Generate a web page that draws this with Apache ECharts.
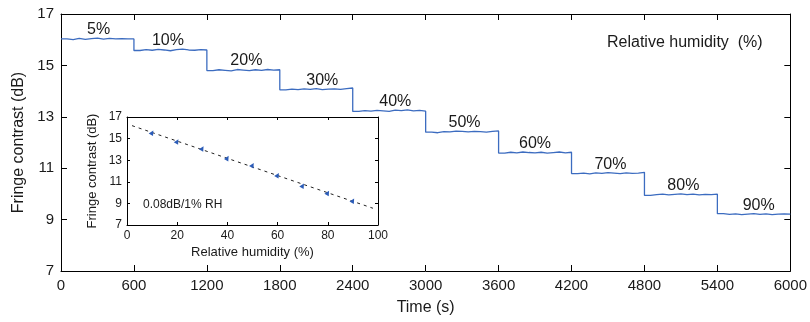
<!DOCTYPE html>
<html>
<head>
<meta charset="utf-8">
<script src="https://cdn.jsdelivr.net/npm/echarts@6/dist/echarts.min.js"></script>
<style>
  html, body { margin: 0; padding: 0; background: #fff; }
  #chart { width: 810px; height: 322px; }
</style>
</head>
<body>
<div id="chart"></div>
<script>
// readings every 50 s, one list per humidity step (600 s each)
const sampleStep = 50
const stepLength = 600
const segments = [
  [16.03, 16.00, 16.05, 16.01, 16.04, 16.06, 16.02, 16.05, 16.03, 16.04, 16.03, 16.03],
  [15.58, 15.61, 15.59, 15.62, 15.60, 15.57, 15.61, 15.63, 15.60, 15.59, 15.61, 15.60],
  [14.80, 14.83, 14.81, 14.79, 14.84, 14.82, 14.80, 14.83, 14.81, 14.84, 14.82, 14.83],
  [14.05, 14.08, 14.06, 14.09, 14.07, 14.10, 14.06, 14.08, 14.09, 14.07, 14.10, 14.12],
  [13.21, 13.24, 13.22, 13.25, 13.23, 13.21, 13.26, 13.24, 13.27, 13.23, 13.25, 13.22],
  [12.40, 12.38, 12.42, 12.41, 12.44, 12.43, 12.41, 12.43, 12.42, 12.40, 12.43, 12.45],
  [11.59, 11.62, 11.60, 11.63, 11.61, 11.60, 11.62, 11.59, 11.61, 11.63, 11.60, 11.62],
  [10.79, 10.81, 10.78, 10.82, 10.80, 10.83, 10.81, 10.79, 10.82, 10.80, 10.81, 10.84],
  [9.94, 9.97, 9.99, 9.96, 9.98, 10.00, 9.97, 9.99, 9.96, 9.98, 9.97, 9.99],
  [9.23, 9.20, 9.22, 9.19, 9.21, 9.23, 9.20, 9.22, 9.19, 9.21, 9.22, 9.21]
]

// step annotations
const stepLabels = ['5%', '10%', '20%', '30%', '40%', '50%', '60%', '70%', '80%', '90%']
const labelTimes = [310, 880, 1525, 2150, 2750, 3320, 3900, 4520, 5120, 5740]
const stepLevels = [16.03, 15.60, 14.82, 14.07, 13.23, 12.42, 11.61, 10.80, 9.97, 9.21]

// inset: contrast vs humidity
const rhPoints = [10, 20, 30, 40, 50, 60, 70, 80, 90]
const fcPoints = [15.55, 14.75, 14.1, 13.2, 12.55, 11.62, 10.65, 9.98, 9.25]
const fitRH = [2, 98]
const fitFC = [16.2, 8.55]

const timeTicks = [0, 600, 1200, 1800, 2400, 3000, 3600, 4200, 4800, 5400, 6000]

const traceData = []
segments.forEach((seg, i) => {
  seg.forEach((v, k) => {
    traceData.push([i * stepLength + k * sampleStep, v])
  })
})
const lastSeg = segments[segments.length - 1]
traceData.push([timeTicks[timeTicks.length - 1], lastSeg[lastSeg.length - 1]])

const labelData = labelTimes.map((t, i) => [t, stepLevels[i], stepLabels[i]])
const fitData = fitRH.map((r, i) => [r, fitFC[i]])
const pointData = rhPoints.map((r, i) => [r, fcPoints[i]])

const font = 'Liberation Sans, Arial, sans-serif'
const ink = '#1a1a1a'
const plain = (v) => String(v)

function frameAxis(extra) {
  return Object.assign({
    type: 'value',
    axisLine: { show: true, onZero: false, lineStyle: { color: '#000', width: 1 } },
    axisTick: { show: true, inside: true, length: 6, lineStyle: { color: '#000' } },
    axisLabel: { show: false },
    splitLine: { show: false }
  }, extra)
}

const chart = echarts.init(document.getElementById('chart'))
const option = {
  animation: false,
  backgroundColor: '#fff',
  textStyle: { fontFamily: font },
  grid: [
    { left: 61, right: 16, top: 14, bottom: 51 },
    { left: 127, top: 117, width: 251, height: 108, show: true,
      backgroundColor: '#fff', borderWidth: 0, z: 5 }
  ],
  xAxis: [
    frameAxis({
      gridIndex: 0, min: 0, max: 6000, interval: 600, position: 'bottom',
      axisLabel: { show: true, fontSize: 15, color: ink, margin: 7, fontFamily: font, formatter: plain },
      name: 'Time (s)', nameLocation: 'middle', nameGap: 29,
      nameTextStyle: { fontSize: 16, color: ink, fontFamily: font }
    }),
    frameAxis({ gridIndex: 0, min: 0, max: 6000, interval: 600, position: 'top' }),
    frameAxis({
      gridIndex: 1, min: 0, max: 100, interval: 20, position: 'bottom', z: 6,
      axisTick: { show: true, inside: true, length: 3, lineStyle: { color: '#000' } },
      axisLabel: { show: true, fontSize: 12, color: ink, margin: 5, fontFamily: font, formatter: plain },
      name: 'Relative humidity (%)', nameLocation: 'middle', nameGap: 21,
      nameTextStyle: { fontSize: 13, color: ink, fontFamily: font }
    }),
    frameAxis({
      gridIndex: 1, min: 0, max: 100, interval: 20, position: 'top', z: 6,
      axisTick: { show: true, inside: true, length: 3, lineStyle: { color: '#000' } }
    })
  ],
  yAxis: [
    frameAxis({
      gridIndex: 0, min: 7, max: 17, interval: 2, position: 'left',
      axisLabel: { show: true, fontSize: 15, color: ink, margin: 7, fontFamily: font, formatter: plain },
      name: 'Fringe contrast (dB)', nameLocation: 'middle', nameGap: 34,
      nameTextStyle: { fontSize: 16, color: ink, fontFamily: font }
    }),
    frameAxis({ gridIndex: 0, min: 7, max: 17, interval: 2, position: 'right' }),
    frameAxis({
      gridIndex: 1, min: 7, max: 17, interval: 2, position: 'left', z: 6,
      axisTick: { show: true, inside: true, length: 3, lineStyle: { color: '#000' } },
      axisLabel: { show: true, fontSize: 12, color: ink, margin: 5, fontFamily: font, formatter: plain },
      name: 'Fringe contrast (dB)', nameLocation: 'middle', nameGap: 28,
      nameTextStyle: { fontSize: 13, color: ink, fontFamily: font }
    }),
    frameAxis({
      gridIndex: 1, min: 7, max: 17, interval: 2, position: 'right', z: 6,
      axisTick: { show: true, inside: true, length: 3, lineStyle: { color: '#000' } }
    })
  ],
  graphic: [
    { type: 'text', left: 607, top: 35, z: 10,
      style: { text: 'Relative humidity  (%)', fontSize: 16, fill: ink, fontFamily: font } },
    { type: 'text', left: 143, top: 199, z: 10,
      style: { text: '0.08dB/1% RH', fontSize: 12, fill: ink, fontFamily: font } }
  ],
  series: [
    {
      name: 'trace', type: 'line', xAxisIndex: 0, yAxisIndex: 0,
      step: 'end', showSymbol: false, data: traceData,
      lineStyle: { color: '#3c6cc0', width: 1.3 }
    },
    {
      name: 'steps', type: 'scatter', xAxisIndex: 0, yAxisIndex: 0,
      symbolSize: 0, data: labelData,
      itemStyle: { opacity: 1 },
      label: {
        show: true, position: 'top', distance: 1,
        formatter: (p) => p.data[2],
        fontSize: 16, color: ink, opacity: 1, fontFamily: font
      }
    },
    {
      name: 'fit', type: 'line', xAxisIndex: 2, yAxisIndex: 2, z: 7,
      showSymbol: false, data: fitData,
      lineStyle: { color: '#222', width: 1, type: [3, 4] }
    },
    {
      name: 'points', type: 'scatter', xAxisIndex: 2, yAxisIndex: 2, z: 8,
      symbol: 'triangle', symbolSize: 5, symbolRotate: -30, data: pointData,
      itemStyle: { color: '#2b5cb8', opacity: 1 }
    }
  ]
}
chart.setOption(option)
</script>
</body>
</html>
